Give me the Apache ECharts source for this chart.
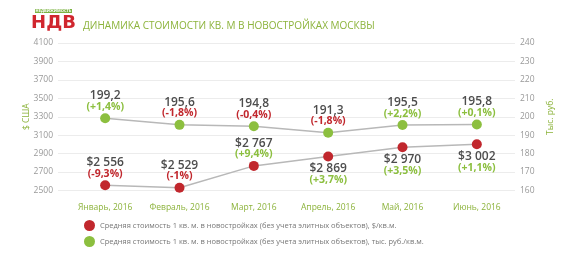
<!DOCTYPE html>
<html><head><meta charset="utf-8">
<script src="https://cdn.jsdelivr.net/npm/echarts@6/dist/echarts.min.js"></script>
<style>html,body{margin:0;padding:0;background:#fff}#c{width:573px;height:273px}</style>
</head><body><div id="c"></div>
<script>
const categories = ['Январь, 2016','Февраль, 2016','Март, 2016','Апрель, 2016','Май, 2016','Июнь, 2016'];
const usdValues = [2556, 2529, 2767, 2869, 2970, 3002];
const usdChange = [-9.3, -1, 9.4, 3.7, 3.5, 1.1];
const rubValues = [199.2, 195.6, 194.8, 191.3, 195.5, 195.8];
const rubChange = [1.4, -1.8, -0.4, -1.8, 2.2, 0.1];
const usdName = 'Средняя стоимость 1 кв. м. в новостройках (без учета элитных объектов), $/кв.м.';
const rubName = 'Средняя стоимость 1 кв. м. в новостройках (без учета элитных объектов), тыс. руб./кв.м.';
const leftTicks = {min: 2500, max: 4100, interval: 200};
const rightTicks = {min: 160, max: 240, interval: 10};

const usdLabelBelow = [false, false, false, true, true, true];

const RED = '#c1272d', GREEN = '#8cbf3f', TXT = '#4d4d4d', FONT = '"Open Sans", sans-serif';
function fmtPct(v){ const s = (v > 0 ? '+' : '') + String(v).replace('.', ','); return '(' + s + '%)'; }
function fmtUsd(v){ return '$' + String(v).replace(/\B(?=(\d{3})+(?!\d))/g, ' '); }
function fmtRub(v){ return v.toFixed(1).replace('.', ','); }
const rich = {
  v: {fontSize: 12, fontWeight: 600, color: TXT, fontFamily: FONT, lineHeight: 11},
  up: {fontSize: 10.5, fontWeight: 700, color: GREEN, fontFamily: FONT, lineHeight: 11},
  dn: {fontSize: 10.5, fontWeight: 700, color: RED, fontFamily: FONT, lineHeight: 11}
};
function lbl(valStr, ch){ return '{v|' + valStr + '}\n{' + (ch >= 0 ? 'up' : 'dn') + '|' + fmtPct(ch) + '}'; }

const usdData = usdValues.map((v, i) => ({
  value: v,
  label: {position: usdLabelBelow[i] ? 'bottom' : 'top', distance: usdLabelBelow[i] ? 2 : 1,
          formatter: lbl(fmtUsd(v), usdChange[i])}
}));
const rubData = rubValues.map((v, i) => ({
  value: v,
  label: {position: 'top', distance: 1, formatter: lbl(fmtRub(v), rubChange[i])}
}));

const chart = echarts.init(document.getElementById('c'));
chart.setOption({
  animation: false,
  textStyle: {fontFamily: FONT},
  title: {text: 'ДИНАМИКА СТОИМОСТИ КВ. М В НОВОСТРОЙКАХ МОСКВЫ', left: 78, top: 16,
    textStyle: {color: '#8cb33b', fontSize: 10, fontWeight: 'normal', fontFamily: FONT}},
  graphic: [
    {type: 'rect', shape: {x: 35, y: 9, width: 37, height: 4}, style: {fill: '#7cb342'}},
    {type: 'text', style: {x: 53.5, y: 11, text: 'НЕДВИЖИМОСТЬ', fill: '#fff', fontSize: 4, fontWeight: 'bold', align: 'center', verticalAlign: 'middle', fontFamily: FONT}},
    {type: 'text', style: {x: 53.5, y: 23, text: 'НДВ', fill: '#d0262e', fontSize: 18, fontWeight: 900, align: 'center', verticalAlign: 'middle', fontFamily: '"DejaVu Sans", sans-serif'}}
  ],
  legend: {orient: 'vertical', left: 79, top: 215, itemGap: 5, itemWidth: 11, itemHeight: 11, icon: 'circle',
    textStyle: {fontSize: 7.5, color: '#777', fontFamily: FONT},
    data: [usdName, rubName]},
  grid: [
    {left: 58, right: 58, top: 43, bottom: 82.5},
    {left: 68, right: 59, top: 43, bottom: 82.5}
  ],
  xAxis: [
    {gridIndex: 0, type: 'category', data: categories, show: false},
    {gridIndex: 1, type: 'category', data: categories, boundaryGap: true,
     axisLine: {show: false}, axisTick: {show: false},
     axisLabel: {color: '#8cb33b', fontSize: 8.5, margin: 13, interval: 0, fontFamily: FONT}}
  ],
  yAxis: [
    {gridIndex: 0, type: 'value', min: leftTicks.min, max: leftTicks.max, interval: leftTicks.interval,
     name: '$ США', nameLocation: 'middle', nameGap: 27, nameMoveOverlap: false, nameTextStyle: {color: '#8cb33b', fontSize: 8.5},
     axisLine: {show: false}, axisTick: {show: false},
     axisLabel: {color: '#999', fontSize: 8.5, margin: 5, formatter: v => String(v)},
     splitLine: {lineStyle: {color: '#ececec', width: 1}}},
    {gridIndex: 0, type: 'value', position: 'right', min: rightTicks.min, max: rightTicks.max, interval: rightTicks.interval,
     name: 'Тыс. руб.', nameLocation: 'middle', nameGap: 31, nameMoveOverlap: false, nameRotate: 90, nameTextStyle: {color: '#8cb33b', fontSize: 8.5},
     axisLine: {show: false}, axisTick: {show: false},
     axisLabel: {color: '#999', fontSize: 8.5, margin: 5, formatter: v => String(v)},
     splitLine: {show: false}},
    {gridIndex: 1, type: 'value', min: leftTicks.min, max: leftTicks.max, show: false},
    {gridIndex: 1, type: 'value', min: rightTicks.min, max: rightTicks.max, show: false}
  ],
  series: [
    {name: usdName, type: 'line', xAxisIndex: 1, yAxisIndex: 2, data: usdData,
     symbol: 'circle', symbolSize: 10, itemStyle: {color: RED},
     lineStyle: {color: '#b8b8b8', width: 1.5}, label: {show: true, rich: rich, align: 'center'}},
    {name: rubName, type: 'line', xAxisIndex: 1, yAxisIndex: 3, data: rubData,
     symbol: 'circle', symbolSize: 10, itemStyle: {color: GREEN},
     lineStyle: {color: '#b8b8b8', width: 1.5}, label: {show: true, rich: rich, align: 'center'}}
  ]
});
</script></body></html>
